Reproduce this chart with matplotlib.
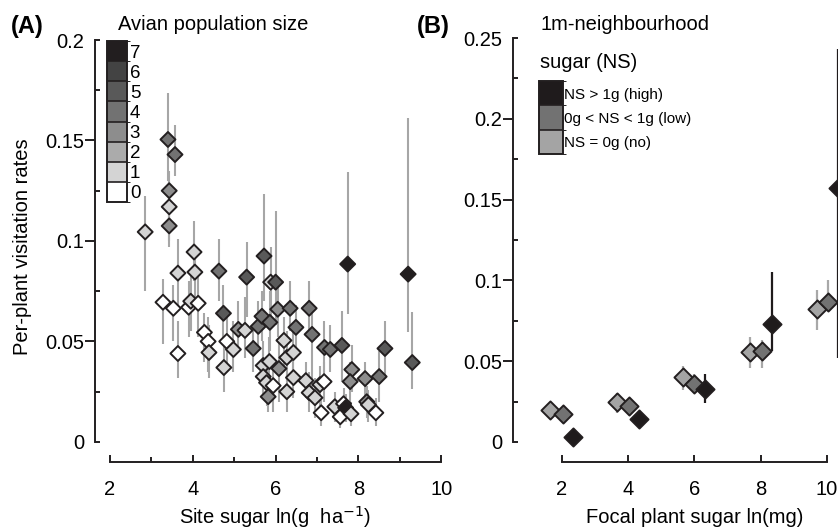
import numpy as np
import matplotlib
matplotlib.use('Agg')
import matplotlib.pyplot as plt
import matplotlib.lines as mlines
from matplotlib.colors import ListedColormap, BoundaryNorm
from matplotlib.cm import ScalarMappable

plt.rcParams['font.family'] = ['Liberation Sans', 'DejaVu Sans']

# panel A: site sugar vs per-plant visitation, shaded by avian population size
a_x = [2.85, 3.40, 3.57, 3.43, 3.43, 3.43, 4.03, 5.72, 7.74, 9.2, 9.3, 3.64, 4.05, 4.63, 5.3,
       5.88, 6.0, 3.28, 3.53, 3.9, 3.95, 4.13, 4.74, 4.28, 4.37, 4.39, 3.64, 4.82, 4.98, 4.75,
       5.1, 5.26, 5.46, 5.58, 5.67, 5.86, 6.05, 6.35, 6.49, 6.81, 6.88, 7.18, 7.32, 7.6, 7.84,
       7.8, 8.16, 8.5, 8.64, 6.2, 6.08, 6.27, 6.43, 6.43, 6.27, 5.7, 5.85, 5.7, 5.78, 5.94,
       5.82, 6.73, 6.81, 6.95, 7.07, 7.17, 7.1, 7.43, 7.64, 7.56, 7.69, 7.82, 8.2, 8.24, 8.42]
a_y = [0.1045, 0.1505, 0.143, 0.125, 0.117, 0.1075, 0.0945, 0.0925, 0.0885, 0.0835, 0.0395,
       0.084, 0.0845, 0.085, 0.082, 0.0795, 0.0795, 0.0695, 0.0665, 0.067, 0.07, 0.069, 0.064,
       0.0545, 0.050, 0.0445, 0.044, 0.050, 0.046, 0.037, 0.056, 0.0555, 0.0465, 0.0575, 0.0625,
       0.0595, 0.066, 0.0665, 0.057, 0.0665, 0.0535, 0.047, 0.046, 0.048, 0.036, 0.030, 0.0315,
       0.0325, 0.0465, 0.0505, 0.0365, 0.042, 0.0445, 0.032, 0.025, 0.038, 0.040, 0.0325, 0.0295,
       0.028, 0.0225, 0.0305, 0.0245, 0.022, 0.0285, 0.03, 0.0145, 0.0175, 0.019, 0.0125, 0.017,
       0.014, 0.020, 0.0185, 0.0145]
a_lo = [0.075, 0.130, 0.1325, 0.108, 0.100, 0.097, 0.080, 0.070, 0.0635, 0.0545, 0.0265,
        0.068, 0.072, 0.070, 0.062, 0.062, 0.058, 0.0485, 0.050, 0.052, 0.055, 0.052, 0.048,
        0.040, 0.035, 0.032, 0.032, 0.038, 0.035, 0.025, 0.045, 0.042, 0.035, 0.045, 0.050,
        0.045, 0.052, 0.055, 0.045, 0.055, 0.025, 0.035, 0.035, 0.030, 0.025, 0.020, 0.022,
        0.020, 0.032, 0.038, 0.020, 0.030, 0.032, 0.022, 0.015, 0.028, 0.028, 0.022, 0.018,
        0.015, 0.015, 0.022, 0.015, 0.012, 0.018, 0.020, 0.008, 0.010, 0.012, 0.007, 0.010,
        0.008, 0.012, 0.010, 0.008]
a_hi = [0.1225, 0.1735, 0.1575, 0.135, 0.130, 0.115, 0.110, 0.1235, 0.1345, 0.161, 0.0645,
        0.101, 0.096, 0.101, 0.0995, 0.097, 0.115, 0.081, 0.078, 0.080, 0.085, 0.082, 0.078,
        0.064, 0.062, 0.058, 0.060, 0.065, 0.060, 0.048, 0.070, 0.072, 0.058, 0.070, 0.075,
        0.075, 0.080, 0.080, 0.068, 0.080, 0.065, 0.060, 0.058, 0.065, 0.048, 0.040, 0.040,
        0.045, 0.060, 0.062, 0.050, 0.055, 0.055, 0.042, 0.035, 0.050, 0.052, 0.045, 0.040,
        0.040, 0.032, 0.040, 0.035, 0.032, 0.038, 0.040, 0.022, 0.025, 0.027, 0.020, 0.024,
        0.020, 0.028, 0.026, 0.022]
a_level = [1, 4, 4, 3, 1, 3, 1, 5, 7, 7, 5, 1, 1, 4, 5, 1, 5, 0, 0, 0, 1, 0, 5, 0, 0, 1, 0, 0,
           1, 1, 3, 1, 4, 4, 4, 4, 3, 4, 4, 4, 4, 4, 4, 5, 3, 3, 3, 4, 5, 1, 3, 1, 1, 1, 1, 1,
           1, 1, 1, 0, 3, 1, 1, 1, 1, 0, 0, 1, 0, 0, 7, 1, 3, 1, 0]
pop_levels = [0, 1, 2, 3, 4, 5, 6, 7]
pop_colors = ['#ffffff', '#d4d4d4', '#ababab', '#8d8d8d', '#727272', '#595959', '#434343', '#221e1f']

# panel B: focal plant sugar vs visitation, by neighbourhood sugar
ns_names = ['NS = 0g (no)', '0g < NS < 1g (low)', 'NS > 1g (high)']
ns_colors = ['#a4a4a4', '#727272', '#1f1b1c']
ns_bar_colors = ['#a8a8a8', '#a8a8a8', '#1f1b1c']
b_x = [[1.64, 3.67, 5.67, 7.67, 9.7],
       [2.03, 4.03, 6.0, 8.03, 10.03],
       [2.33, 4.33, 6.33, 8.33, 10.33]]
b_y = [[0.0198, 0.025, 0.040, 0.0555, 0.082],
       [0.017, 0.022, 0.036, 0.056, 0.0865],
       [0.003, 0.014, 0.033, 0.073, 0.157]]
b_lo = [[0.018, 0.018, 0.032, 0.046, 0.069],
        [0.016, 0.019, 0.030, 0.046, 0.081],
        [0.002, 0.013, 0.024, 0.056, 0.052]]
b_hi = [[0.021, 0.030, 0.047, 0.065, 0.094],
        [0.018, 0.025, 0.042, 0.063, 0.100],
        [0.004, 0.015, 0.042, 0.105, 0.243]]

W, H = 838, 532
fig = plt.figure(figsize=(W / 100, H / 100), dpi=100)


def px(x, y, w, h):
    return [x / W, 1 - (y + h) / H, w / W, h / H]


def style_axes(ax, ytop, yticks, ylabels, yminor, xminor):
    for s in ['top', 'right']:
        ax.spines[s].set_visible(False)
    ax.spines['left'].set_bounds(0, ytop)
    ax.spines['bottom'].set_bounds(2, 10)
    for s in ['left', 'bottom']:
        ax.spines[s].set_linewidth(1.4)
        ax.spines[s].set_color('#231f20')
    ax.set_yticks(yticks)
    ax.set_yticklabels(ylabels)
    ax.set_yticks(yminor, minor=True)
    ax.set_xticks([2, 4, 6, 8, 10])
    ax.set_xticklabels(['2', '4', '6', '8', '10'])
    ax.set_xticks(xminor, minor=True)
    ax.tick_params(axis='y', which='major', direction='out', length=7, width=1.4,
                   labelsize=14.5, pad=1, color='#231f20')
    ax.tick_params(axis='y', which='minor', direction='in', length=3.5, width=1.4, color='#231f20')
    ax.tick_params(axis='x', which='major', direction='in', length=5, width=1.4,
                   labelsize=14.5, pad=13, color='#231f20')
    ax.tick_params(axis='x', which='minor', direction='in', length=3.5, width=1.4, color='#231f20')
    ticks = ax.yaxis.get_major_ticks()
    for t in [ticks[0], ticks[-1]]:
        t.tick1line.set_marker(mlines.TICKRIGHT)
        t.tick1line.set_markersize(3.5)


# ---- panel A ----
axA = fig.add_axes(px(95, 40, 350, 422))
axA.set_xlim(1.638, 10.09)
axA.set_ylim(-0.01, 0.2)
axA.vlines(a_x, a_lo, a_hi, colors='#a6a6a6', linewidth=1.5, zorder=1)
axA.scatter(a_x, a_y, c=[pop_colors[l] for l in a_level], marker='D', s=58,
            edgecolors='#231f20', linewidths=1.4, zorder=2, clip_on=False)
style_axes(axA, 0.2, [0, 0.05, 0.1, 0.15, 0.2], ['0', '0.05', '0.1', '0.15', '0.2'],
           [0.025, 0.075, 0.125, 0.175], [3, 5, 7, 9])
axA.set_ylabel('Per-plant visitation rates', fontsize=14.5)
axA.yaxis.set_label_coords(-0.18, 0.51)
axA.set_xlabel('Site sugar ln(g  ha$^{-1}$)', fontsize=14.5)
axA.xaxis.set_label_coords(0.515, -0.1)

caxA = fig.add_axes(px(107, 41, 20, 161))
cmapA = ListedColormap(pop_colors)
normA = BoundaryNorm(np.arange(-0.5, 8.5), 8)
cbA = fig.colorbar(ScalarMappable(norm=normA, cmap=cmapA), cax=caxA, ticks=pop_levels, drawedges=True)
cbA.outline.set_linewidth(1.4)
cbA.outline.set_edgecolor('#231f20')
cbA.dividers.set_linewidth(1.2)
cbA.dividers.set_color('#231f20')
caxA.tick_params(length=0, labelsize=13.5, pad=2)
caxA.set_yticklabels([str(v) for v in pop_levels])
fig.text(118 / W, 1 - 25 / H, 'Avian population size', fontsize=14.5, va='center', ha='left')
fig.text(11 / W, 1 - 26 / H, '(A)', fontsize=17, fontweight='bold', va='center', ha='left')

# ---- panel B ----
axB = fig.add_axes(px(513, 38, 335, 424))
axB.set_xlim(0.52, 10.64)
axB.set_ylim(-0.0124, 0.25)
for k in range(3):
    axB.vlines(b_x[k], b_lo[k], b_hi[k], colors=ns_bar_colors[k], linewidth=1.6, zorder=1)
    axB.scatter(b_x[k], b_y[k], c=ns_colors[k], marker='D', s=85,
                edgecolors='#231f20', linewidths=1.4, zorder=2, clip_on=False)
style_axes(axB, 0.25, [0, 0.05, 0.1, 0.15, 0.2, 0.25], ['0', '0.05', '0.1', '0.15', '0.2', '0.25'],
           [0.025, 0.075, 0.125, 0.175, 0.225], [])
axB.set_xlabel('Focal plant sugar ln(mg)', fontsize=14.5)
axB.xaxis.set_label_coords(0.543, -0.108)

caxB = fig.add_axes(px(539, 81, 24, 73))
cbB = fig.colorbar(ScalarMappable(norm=BoundaryNorm(np.arange(-0.5, 3.5), 3), cmap=ListedColormap(ns_colors)),
                   cax=caxB, ticks=[0, 1, 2], drawedges=True)
cbB.outline.set_linewidth(1.4)
cbB.outline.set_edgecolor('#231f20')
cbB.dividers.set_linewidth(1.2)
cbB.dividers.set_color('#231f20')
caxB.tick_params(length=0, labelsize=11, pad=1)
caxB.set_yticklabels(ns_names)
fig.text(540 / W, 1 - 25 / H, '1m-neighbourhood', fontsize=14.5, va='center', ha='left')
fig.text(540 / W, 1 - 62 / H, 'sugar (NS)', fontsize=14.5, va='center', ha='left')
fig.text(417 / W, 1 - 27 / H, '(B)', fontsize=17, fontweight='bold', va='center', ha='left')

fig.savefig('out.png', dpi=100)
